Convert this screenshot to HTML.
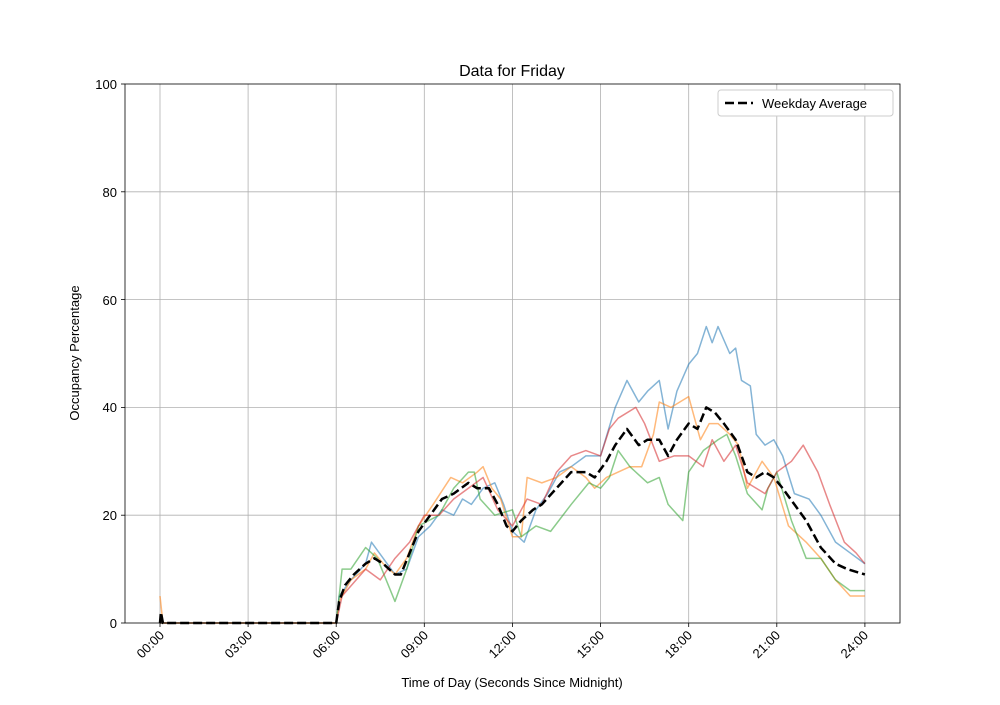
<!DOCTYPE html>
<html><head><meta charset="utf-8"><style>
body{margin:0;background:#fff}
svg{font-family:"Liberation Sans","DejaVu Sans",sans-serif}
</style></head><body>
<svg width="1000" height="700" viewBox="0 0 1000 700" xmlns="http://www.w3.org/2000/svg">
<rect width="1000" height="700" fill="#fff"/>
<g stroke="#b0b0b0" stroke-width="0.8">
<line x1="160" y1="84" x2="160" y2="623"/><line x1="248.1" y1="84" x2="248.1" y2="623"/>
<line x1="336.2" y1="84" x2="336.2" y2="623"/><line x1="424.3" y1="84" x2="424.3" y2="623"/>
<line x1="512.4" y1="84" x2="512.4" y2="623"/><line x1="600.6" y1="84" x2="600.6" y2="623"/>
<line x1="688.7" y1="84" x2="688.7" y2="623"/><line x1="776.8" y1="84" x2="776.8" y2="623"/>
<line x1="864.9" y1="84" x2="864.9" y2="623"/>
<line x1="125" y1="515.2" x2="900" y2="515.2"/><line x1="125" y1="407.4" x2="900" y2="407.4"/>
<line x1="125" y1="299.6" x2="900" y2="299.6"/><line x1="125" y1="191.8" x2="900" y2="191.8"/>
</g>
<g transform="translate(160,623) scale(29.37,-5.39)" fill="none" stroke-width="1.5" stroke-linejoin="round">
<polyline vector-effect="non-scaling-stroke" stroke="#1f77b4" stroke-opacity="0.55" points="0,0 6,0 6.1,5 6.5,8 7,11 7.2,15 7.6,12 8,9 8.4,10 8.8,16 9.2,18 9.6,21 10,20 10.3,23 10.6,22 11,25 11.4,26 11.7,22 12,17 12.4,15 12.8,21 13.2,24 13.6,28 14,29 14.5,31 15,31 15.5,40 15.9,45 16.3,41 16.6,43 17,45 17.3,36 17.6,43 18,48 18.3,50 18.6,55 18.8,52 19,55 19.4,50 19.6,51 19.8,45 20.1,44 20.3,35 20.6,33 20.9,34 21.2,31 21.6,24 22.1,23 22.5,20 23,15 23.5,13 24,11"/>
<polyline vector-effect="non-scaling-stroke" stroke="#ff7f0e" stroke-opacity="0.55" points="0,5 0.1,0 6,0 6.1,4 6.5,8 7,10 7.3,13 7.6,11 8,9 8.4,12 8.8,18 9.3,22 9.9,27 10.3,26 10.8,28 11,29 11.3,25 11.6,23 12,16 12.3,16 12.5,27 13,26 13.5,27 14,29 14.5,27 14.8,25 15.2,27 15.6,28 16,29 16.4,29 16.8,35 17,41 17.4,40 17.7,41 18,42 18.4,34 18.7,37 19,37 19.4,35 19.7,33 20,25 20.5,30 20.9,27 21.4,18 22,15 22.5,12 23,8 23.5,5 24,5"/>
<polyline vector-effect="non-scaling-stroke" stroke="#2ca02c" stroke-opacity="0.55" points="0,0 6,0 6.2,10 6.5,10 7,14 7.4,12 8,4 8.4,10 8.8,18 9.5,20 10,25 10.5,28 10.7,28 10.9,23 11.4,20 12,21 12.3,16 12.8,18 13.3,17 14,22 14.6,26 15,25 15.3,27 15.6,32 16,29 16.6,26 17,27 17.3,22 17.8,19 18,28 18.5,32 19,34 19.3,35 19.6,31 20,24 20.5,21 20.7,25 21,28 21.5,19 22,12 22.5,12 23,8 23.5,6 24,6"/>
<polyline vector-effect="non-scaling-stroke" stroke="#d62728" stroke-opacity="0.55" points="0,0 6,0 6.2,5 7,10 7.5,8 8,12 8.5,15 9,20 9.5,20 10,23 10.5,25 11,27 11.5,21 12,18 12.5,23 13,22 13.5,28 14,31 14.5,32 15,31 15.3,36 15.6,38 16.2,40 16.5,37 17,30 17.5,31 18,31 18.5,29 18.8,34 19.2,30 19.6,33 20,26 20.3,25 20.6,24 21,28 21.5,30 21.9,33 22.4,28 22.8,22 23.3,15 23.7,13 24,11"/>
<polyline vector-effect="non-scaling-stroke" stroke="#000" stroke-width="2.5" stroke-dasharray="9,4" points="0,0 0.03,2 0.1,0 6,0 6.1,4 6.3,7 6.6,9 7,11 7.3,12 7.6,11 8,9 8.2,9 8.5,13 8.8,17 9.2,20 9.6,23 10,24 10.5,26 10.8,25 11.2,25 11.5,22 11.8,18 12,17 12.3,19 12.7,21 13,22 13.5,25 14,28 14.5,28 14.8,27 15.2,30 15.5,33 15.9,36 16.3,33 16.6,34 17,34 17.3,31 17.6,34 18,37 18.3,36 18.6,40 18.9,39 19.2,37 19.6,34 20,28 20.3,27 20.6,28 20.9,27 21.2,25 21.6,22 22,19 22.5,14 23,11 23.4,10 24,9"/>
</g>
<rect x="125" y="84" width="775" height="539" fill="none" stroke="#000" stroke-width="0.8"/>
<g stroke="#000" stroke-width="0.8">
<line x1="160" y1="623" x2="160" y2="627"/><line x1="248.1" y1="623" x2="248.1" y2="627"/>
<line x1="336.2" y1="623" x2="336.2" y2="627"/><line x1="424.3" y1="623" x2="424.3" y2="627"/>
<line x1="512.4" y1="623" x2="512.4" y2="627"/><line x1="600.6" y1="623" x2="600.6" y2="627"/>
<line x1="688.7" y1="623" x2="688.7" y2="627"/><line x1="776.8" y1="623" x2="776.8" y2="627"/>
<line x1="864.9" y1="623" x2="864.9" y2="627"/>
<line x1="121" y1="623" x2="125" y2="623"/><line x1="121" y1="515.2" x2="125" y2="515.2"/>
<line x1="121" y1="407.4" x2="125" y2="407.4"/><line x1="121" y1="299.6" x2="125" y2="299.6"/>
<line x1="121" y1="191.8" x2="125" y2="191.8"/><line x1="121" y1="84" x2="125" y2="84"/>
</g>
<g font-size="13" text-anchor="end">
<text x="117" y="628">0</text><text x="117" y="520">20</text><text x="117" y="412">40</text>
<text x="117" y="305">60</text><text x="117" y="197">80</text><text x="117" y="89">100</text>
</g>
<g font-size="13" text-anchor="end">
<text transform="translate(165,636) rotate(-45)">00:00</text>
<text transform="translate(253,636) rotate(-45)">03:00</text>
<text transform="translate(341,636) rotate(-45)">06:00</text>
<text transform="translate(429,636) rotate(-45)">09:00</text>
<text transform="translate(517,636) rotate(-45)">12:00</text>
<text transform="translate(605,636) rotate(-45)">15:00</text>
<text transform="translate(693,636) rotate(-45)">18:00</text>
<text transform="translate(781,636) rotate(-45)">21:00</text>
<text transform="translate(869,636) rotate(-45)">24:00</text>
</g>
<text x="512" y="76" font-size="16" text-anchor="middle">Data for Friday</text>
<text x="512" y="687" font-size="13" text-anchor="middle">Time of Day (Seconds Since Midnight)</text>
<text transform="translate(79,353) rotate(-90)" font-size="13" text-anchor="middle">Occupancy Percentage</text>
<rect x="718" y="90" width="175" height="26" rx="3" fill="#fff" stroke="#ccc"/>
<line x1="725" y1="103" x2="753" y2="103" stroke="#000" stroke-width="2.5" stroke-dasharray="9,4"/>
<text x="762" y="108" font-size="13">Weekday Average</text>
</svg>
</body></html>
